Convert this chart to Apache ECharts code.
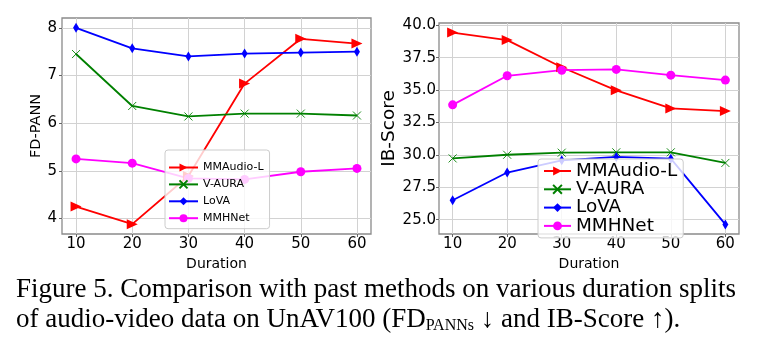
<!DOCTYPE html>
<html>
<head>
<meta charset="utf-8">
<script src="https://cdn.jsdelivr.net/npm/echarts@6/dist/echarts.min.js"></script>
<style>
  html, body { margin: 0; padding: 0; background: #fff; }
  #chart { width: 757px; height: 355px; }
</style>
</head>
<body>
<div id="chart"></div>
<script>
// values
const durations = [10, 20, 30, 40, 50, 60];
const methodNames = ['MMAudio-L', 'V-AURA', 'LoVA', 'MMHNet'];

const fdMMAudio = [4.25, 3.88, 4.89, 6.83, 7.77, 7.67];
const fdVAura = [7.45, 6.36, 6.14, 6.20, 6.20, 6.16];
const fdLoVA = [8.00, 7.57, 7.40, 7.46, 7.48, 7.50];
const fdMMHNet = [5.25, 5.16, 4.84, 4.82, 4.98, 5.05];

const ibMMAudio = [39.43, 38.85, 36.76, 34.98, 33.58, 33.38];
const ibVAura = [29.73, 30.01, 30.17, 30.20, 30.20, 29.38];
const ibLoVA = [26.50, 28.64, 29.58, 29.84, 29.71, 24.64];
const ibMMHNet = [33.86, 36.10, 36.53, 36.59, 36.15, 35.77];

const durationTicks = [10, 20, 30, 40, 50, 60];
const fdTicks = [4, 5, 6, 7, 8];
const ibTicks = [25, 27.5, 30, 32.5, 35, 37.5, 40];

const captionLine1 = 'Figure 5. Comparison with past methods on various duration splits';
const captionLine2 = 'of audio-video data on UnAV100 (FD{s|PANNs} \u2193 and IB-Score \u2191).';

const SANS = 'DejaVu Sans';
const SERIF = 'Liberation Serif';

const methodStyle = {
  'MMAudio-L': { color: '#ff0000', symbol: 'triangle', rotate: -90, size: [10, 11] },
  'V-AURA': { color: '#008000', symbol: 'path://M0,0L10,10M10,0L0,10', rotate: 0, size: 8 },
  'LoVA': { color: '#0000ff', symbol: 'diamond', rotate: 0, size: [6, 10] },
  'MMHNet': { color: '#ff00ff', symbol: 'circle', rotate: 0, size: 9 }
};

function makeSeries(name, values, idx) {
  const st = methodStyle[name];
  const isCross = name === 'V-AURA';
  return {
    name: name,
    type: 'line',
    xAxisIndex: idx,
    yAxisIndex: idx,
    data: durations.map((d, i) => [d, values[i]]),
    symbol: st.symbol,
    symbolSize: st.size,
    symbolRotate: st.rotate,
    showAllSymbol: true,
    lineStyle: { color: st.color, width: 1.8 },
    itemStyle: {
      color: isCross ? 'none' : st.color,
      borderColor: st.color,
      borderWidth: isCross ? 0.9 : 0
    },
    emphasis: { disabled: true },
    animation: false
  };
}

function makeXAxis(idx, labelSize) {
  return {
    type: 'value',
    gridIndex: idx,
    min: 7.5,
    max: 62.5,
    name: 'Duration',
    nameLocation: 'middle',
    nameGap: 17,
    nameTextStyle: { fontFamily: SANS, fontSize: 14, color: '#000' },
    axisLine: { show: false },
    axisTick: { show: true, length: 3, customValues: durationTicks, lineStyle: { color: '#666' } },
    axisLabel: {
      fontFamily: SANS, fontSize: labelSize, color: '#000', margin: 3,
      customValues: durationTicks
    },
    splitLine: { show: true, lineStyle: { color: '#d2d2d2', width: 1 } }
  };
}

function makeYAxis(idx, opts) {
  return {
    type: 'value',
    gridIndex: idx,
    min: opts.min,
    max: opts.max,
    name: opts.name,
    nameLocation: 'middle',
    nameRotate: 90,
    nameGap: opts.nameGap,
    nameTextStyle: { fontFamily: SANS, fontSize: opts.nameSize, color: '#000' },
    axisLine: { show: false },
    axisTick: { show: true, length: 3, customValues: opts.ticks, lineStyle: { color: '#666' } },
    axisLabel: {
      fontFamily: SANS, fontSize: opts.labelSize, color: '#000', margin: opts.margin,
      customValues: opts.ticks,
      formatter: opts.formatter
    },
    splitLine: { show: true, lineStyle: { color: '#d2d2d2', width: 1 } }
  };
}

const chart = echarts.init(document.getElementById('chart'), null, { renderer: 'canvas' });

const option = {
  backgroundColor: '#fff',
  animation: false,
  grid: [
    { left: 62, top: 18, width: 309, height: 216, show: true, borderColor: '#8a8a8a', borderWidth: 1.3, backgroundColor: 'transparent' },
    { left: 439, top: 23, width: 300, height: 211, show: true, borderColor: '#8a8a8a', borderWidth: 1.3, backgroundColor: 'transparent' }
  ],
  xAxis: [makeXAxis(0, 15), makeXAxis(1, 15)],
  yAxis: [
    makeYAxis(0, { min: 3.674, max: 8.206, ticks: fdTicks, name: 'FD-PANN', nameGap: 17, nameSize: 14.5, labelSize: 15, margin: 5,
      formatter: v => String(v) }),
    makeYAxis(1, { min: 23.9, max: 40.17, ticks: ibTicks, name: 'IB-Score', nameGap: 30, nameSize: 18.5, labelSize: 15, margin: 3,
      formatter: v => v.toFixed(1) })
  ],
  legend: [
    {
      data: methodNames,
      orient: 'vertical',
      left: 165,
      top: 150,
      padding: [11, 6, 4, 3],
      itemGap: 3.9,
      itemWidth: 29,
      itemHeight: 10,
      backgroundColor: 'rgba(255,255,255,0.8)',
      borderColor: '#cccccc',
      borderWidth: 1,
      borderRadius: 3,
      selectedMode: false,
      textStyle: { fontFamily: SANS, fontSize: 11, color: '#000', lineHeight: 13 }
    },
    {
      data: methodNames,
      orient: 'vertical',
      left: 538,
      top: 159,
      padding: [3, 6, 3, 5],
      itemGap: 0.3,
      itemWidth: 27,
      itemHeight: 11,
      backgroundColor: 'rgba(255,255,255,0.8)',
      borderColor: '#cccccc',
      borderWidth: 1,
      borderRadius: 3,
      selectedMode: false,
      textStyle: { fontFamily: SANS, fontSize: 18.4, color: '#000', lineHeight: 17 }
    }
  ],
  series: [
    makeSeries('MMAudio-L', fdMMAudio, 0),
    makeSeries('V-AURA', fdVAura, 0),
    makeSeries('LoVA', fdLoVA, 0),
    makeSeries('MMHNet', fdMMHNet, 0),
    makeSeries('MMAudio-L', ibMMAudio, 1),
    makeSeries('V-AURA', ibVAura, 1),
    makeSeries('LoVA', ibLoVA, 1),
    makeSeries('MMHNet', ibMMHNet, 1)
  ],
  graphic: [
    {
      type: 'text',
      x: 16,
      y: 290,
      style: {
        text: captionLine1,
        font: '27px "' + SERIF + '"',
        fill: '#000',
        verticalAlign: 'middle'
      }
    },
    {
      type: 'text',
      x: 16,
      y: 320,
      style: {
        text: captionLine2,
        font: '27px "' + SERIF + '"',
        fill: '#000',
        verticalAlign: 'middle',
        rich: {
          s: { fontFamily: SERIF, fontSize: 16, verticalAlign: 'bottom' }
        }
      }
    }
  ]
};

chart.setOption(option);
</script>
</body>
</html>
